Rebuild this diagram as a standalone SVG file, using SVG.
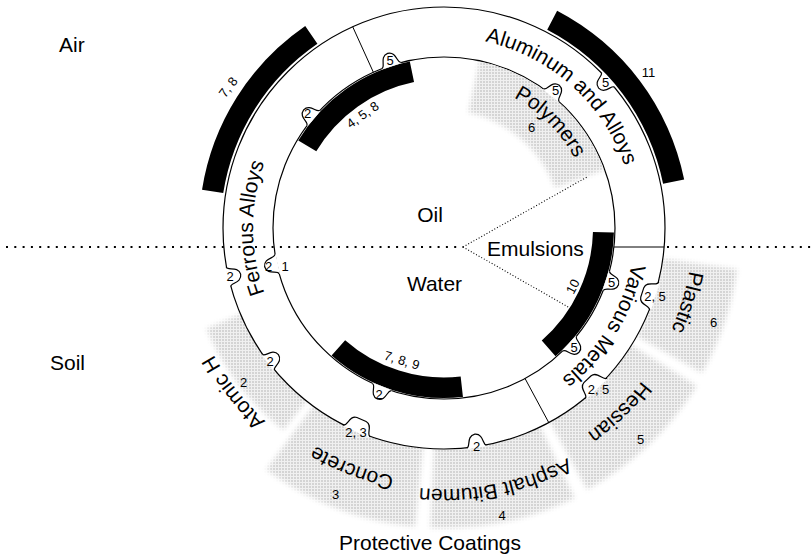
<svg xmlns="http://www.w3.org/2000/svg" width="812" height="554" viewBox="0 0 812 554">
<defs>
<style>
text{font-family:"Liberation Sans",Arial,Helvetica,sans-serif;fill:#000}
.lbl{font-size:21px}
.num{font-size:13px;text-anchor:middle}
.mid{text-anchor:middle}
.ring{stroke:#000;stroke-width:1.2}
.bar{fill:#000}
.div{stroke:#000;stroke-width:1;fill:none}
.dot{fill:none;stroke:#000;stroke-width:2;stroke-dasharray:2 6.3}
.fine{fill:none;stroke:#000;stroke-width:1.1;stroke-dasharray:1 2}
.bf{fill:#fff}
.bs{fill:none;stroke:#000;stroke-width:1.2}
.mesh{fill:url(#mesh)}
.mk{fill:#fff}
</style>
<pattern id="mesh" width="3" height="3" patternUnits="userSpaceOnUse"><rect width="3" height="3" fill="#f0f0f0"/><rect width="2" height="2" fill="#d4d4d4"/></pattern>
<filter id="soft" x="-20%" y="-20%" width="140%" height="140%"><feGaussianBlur stdDeviation="2.5"/></filter>
<clipPath id="inClip"><circle cx="444" cy="228" r="170.4"/></clipPath>
<mask id="mk-plastic" maskUnits="userSpaceOnUse" x="0" y="0" width="812" height="554"><path class="mk" filter="url(#soft)" d="M737.12 269.2 A296 296 0 0 1 702.13 372.86 L636.73 336.15 A221 221 0 0 0 662.85 258.76 Z"/></mask>
<mask id="mk-hessian" maskUnits="userSpaceOnUse" x="0" y="0" width="812" height="554"><path class="mk" filter="url(#soft)" d="M696.72 385.92 A298 298 0 0 1 587.11 489.39 L546.77 415.71 A214 214 0 0 0 625.48 341.4 Z"/></mask>
<mask id="mk-asphalt" maskUnits="userSpaceOnUse" x="0" y="0" width="812" height="554"><path class="mk" filter="url(#soft)" d="M574.57 498.1 A300 300 0 0 1 430.39 527.69 L434.29 441.78 A214 214 0 0 0 537.14 420.67 Z"/></mask>
<mask id="mk-concrete" maskUnits="userSpaceOnUse" x="0" y="0" width="812" height="554"><path class="mk" filter="url(#soft)" d="M415.24 526.62 A300 300 0 0 1 266.4 469.78 L317.31 400.47 A214 214 0 0 0 423.49 441.02 Z"/></mask>
<mask id="mk-atomic" maskUnits="userSpaceOnUse" x="0" y="0" width="812" height="554"><path class="mk" filter="url(#soft)" d="M283.39 429.91 A258 258 0 0 1 206.51 328.81 L247.01 311.62 A214 214 0 0 0 310.78 395.48 Z"/></mask>
<mask id="mk-polymers" maskUnits="userSpaceOnUse" x="0" y="0" width="812" height="554"><path class="mk" filter="url(#soft)" d="M480.59 55.85 A176 176 0 0 1 609.39 167.8 L554.88 187.64 A118 118 0 0 0 468.53 112.58 Z"/></mask>
<path id="tp-ferrous" d="M297.69 350.77 A191 191 0 0 1 297.69 105.23"/>
<path id="tp-alu" d="M449.67 37.08 A191 191 0 0 1 633 200.43"/>
<path id="tp-various" d="M632.85 199.44 A191 191 0 0 1 504.92 409.02"/>
<path id="tp-poly" d="M456.9 80.56 A148 148 0 0 1 591.44 215.1"/>
<path id="tp-plastic" d="M673.2 130.71 A249 249 0 0 1 579.62 436.83"/>
<path id="tp-hessian" d="M692.44 255.87 A250 250 0 0 1 459.7 477.51"/>
<path id="tp-asphalt" d="M647.98 390.83 A261 261 0 0 1 319.06 457.15"/>
<path id="tp-concrete" d="M526.37 467.22 A253 253 0 0 1 222.72 350.66"/>
<path id="tp-atomic" d="M389.32 485.25 A263 263 0 0 1 181.16 218.82"/>
<g id="bump1"><path class="bf" d="M-10 1.1 L-10 0 C-6 0 -9 -12 0 -12.5 C9 -12 6 0 10 0 L10 1.1 Z"/><path class="bs" d="M-10 0 C-6 0 -9 -12 0 -12.5 C9 -12 6 0 10 0"/></g>
<g id="bump2"><path class="bf" d="M-15 1.1 L-15 0 C-10 0 -13 -12 -5 -12.5 L5 -12.5 C13 -12 10 0 15 0 L15 1.1 Z"/><path class="bs" d="M-15 0 C-10 0 -13 -12 -5 -12.5 L5 -12.5 C13 -12 10 0 15 0"/></g>
</defs>

<rect width="812" height="554" fill="#fff"/>

<!-- Protective coatings (outside ring) -->
<g id="coating-plastic">
<rect width="812" height="554" class="mesh" mask="url(#mk-plastic)"/>
<text class="lbl"><textPath href="#tp-plastic" startOffset="50%" text-anchor="middle">Plastic</textPath></text>
<text class="num" x="713.5" y="327">6</text>
</g>
<g id="coating-hessian">
<rect width="812" height="554" class="mesh" mask="url(#mk-hessian)"/>
<text class="lbl"><textPath href="#tp-hessian" startOffset="50%" text-anchor="middle">Hessian</textPath></text>
<text class="num" x="640.5" y="444">5</text>
</g>
<g id="coating-asphalt">
<rect width="812" height="554" class="mesh" mask="url(#mk-asphalt)"/>
<text class="lbl"><textPath href="#tp-asphalt" startOffset="50%" text-anchor="middle">Asphalt Bitumen</textPath></text>
<text class="num" x="502" y="520">4</text>
</g>
<g id="coating-concrete">
<rect width="812" height="554" class="mesh" mask="url(#mk-concrete)"/>
<text class="lbl"><textPath href="#tp-concrete" startOffset="50%" text-anchor="middle">Concrete</textPath></text>
<text class="num" x="335.5" y="499">3</text>
</g>
<g id="coating-atomic-h">
<rect width="812" height="554" class="mesh" mask="url(#mk-atomic)"/>
<text class="lbl"><textPath href="#tp-atomic" startOffset="50%" text-anchor="middle">Atomic H</textPath></text>
<text class="num" x="243.5" y="387">2</text>
</g>

<!-- ring -->
<g id="ring">
<circle cx="444" cy="228" r="221" fill="#fff" class="ring"/>
<circle cx="444" cy="228" r="171" fill="none" class="ring"/>
</g>

<g id="polymers">
<rect width="812" height="554" class="mesh" mask="url(#mk-polymers)" clip-path="url(#inClip)"/>
<text class="lbl"><textPath href="#tp-poly" startOffset="50%" text-anchor="middle">Polymers</textPath></text>
<text class="num" x="531.5" y="132">6</text>
</g>

<!-- connectors / boundary lines -->
<g id="connectors">
<line class="dot" x1="6" y1="247" x2="463" y2="247"/>
<line class="dot" x1="667" y1="247" x2="812" y2="247"/>
<line class="fine" x1="463" y1="247" x2="587" y2="177"/>
<line class="fine" x1="463" y1="247" x2="570" y2="308"/>
<line class="div" x1="373.36" y1="72.27" x2="352.7" y2="26.74"/>
<line class="div" x1="614" y1="247" x2="664.2" y2="247"/>
<line class="div" x1="525.07" y1="378.56" x2="548.77" y2="422.59"/>
</g>

<!-- black bars -->
<g id="bar-air-ferrous">
<path class="bar" d="M202.02 189.67 A245 245 0 0 1 305.23 26.09 L317.41 43.81 A223.5 223.5 0 0 0 223.25 193.04 Z"/>
<text class="num" transform="translate(228 87) rotate(-53)" y="4.7">7, 8</text>
</g>
<g id="bar-oil-ferrous">
<path class="bar" d="M298.28 140.44 A170 170 0 0 1 409.82 61.47 L414.04 82.04 A149 149 0 0 0 316.28 151.26 Z"/>
<text class="num" transform="translate(362.5 114.5) rotate(-35)" y="4.7">4, 5, 8</text>
</g>
<g id="bar-air-aluminum">
<path class="bar" d="M557.13 10.68 A245 245 0 0 1 684.17 179.57 L663.09 183.82 A223.5 223.5 0 0 0 547.2 29.75 Z"/>
<text class="num" x="648.5" y="77">11</text>
</g>
<g id="bar-emulsions">
<path class="bar" d="M613.94 232.45 A170 170 0 0 1 555.53 356.3 L541.75 340.45 A149 149 0 0 0 592.95 231.9 Z"/>
<text class="num" transform="translate(572.5 286.3) rotate(-63)" y="4.7">10</text>
</g>
<g id="bar-water">
<path class="bar" d="M462.95 396.94 A170 170 0 0 1 331.58 355.52 L345.13 340.14 A149.5 149.5 0 0 0 460.66 376.57 Z"/>
<text class="num" transform="translate(402 360) rotate(17)" y="4.7">7, 8, 9</text>
</g>

<!-- reference tabs -->
<g id="tabs">
<use href="#bump1" transform="translate(391.44 65.28) rotate(342.1)"/>
<use href="#bump1" transform="translate(313.2 117.86) rotate(310.1)"/>
<use href="#bump1" transform="translate(551.38 94.92) rotate(38.9)"/>
<use href="#bump1" transform="translate(606.63 280.84) rotate(108)"/>
<use href="#bump1" transform="translate(569.87 343.75) rotate(132.6)"/>
<use href="#bump1" transform="translate(381.88 387.32) rotate(201.3)"/>
<use href="#bump1" transform="translate(276.86 264.14) rotate(257.8)"/>
<use href="#bump1" transform="translate(607.93 79.79) rotate(227.9)"/>
<use href="#bump2" transform="translate(654.18 296.29) rotate(-72)"/>
<use href="#bump2" transform="translate(596.13 388.31) rotate(-43.5)"/>
<use href="#bump1" transform="translate(476.67 446.57) rotate(-8.5)"/>
<use href="#bump2" transform="translate(356.58 430.98) rotate(23.3)"/>
<use href="#bump1" transform="translate(268.49 362.3) rotate(52.6)"/>
<use href="#bump1" transform="translate(228.49 276.96) rotate(77.2)"/>
<text class="num" x="390" y="65.2">5</text>
<text class="num" x="307.5" y="117.7">2</text>
<text class="num" x="555.5" y="94.7">5</text>
<text class="num" x="611.5" y="287.2">5</text>
<text class="num" x="574" y="352.2">5</text>
<text class="num" x="379" y="399.2">2</text>
<text class="num" x="268.5" y="270.7">2</text>
<text class="num" x="285" y="271.2">1</text>
<text class="num" x="605.5" y="86.7">5</text>
<text class="num" x="655" y="300.7">2, 5</text>
<text class="num" x="598.5" y="394.2">2, 5</text>
<text class="num" x="476.5" y="450.7">2</text>
<text class="num" x="356" y="437.2">2, 3</text>
<text class="num" x="270" y="365.7">2</text>
<text class="num" x="230" y="281.2">2</text>
</g>

<!-- ring segment labels -->
<g id="ferrous-alloys"><text class="lbl"><textPath href="#tp-ferrous" startOffset="50%" text-anchor="middle">Ferrous Alloys</textPath></text></g>
<g id="aluminum-alloys"><text class="lbl"><textPath href="#tp-alu" startOffset="50%" text-anchor="middle">Aluminum and Alloys</textPath></text></g>
<g id="various-metals"><text class="lbl"><textPath href="#tp-various" startOffset="50%" text-anchor="middle">Various Metals</textPath></text></g>

<!-- environments -->
<g id="oil"><text class="lbl mid" x="430" y="222">Oil</text></g>
<g id="water"><text class="lbl mid" x="434.5" y="291">Water</text></g>
<g id="emulsions"><text class="lbl" x="487" y="256">Emulsions</text></g>
<g id="air"><text class="lbl" x="59" y="52">Air</text></g>
<g id="soil"><text class="lbl" x="50" y="370">Soil</text></g>
<g id="protective-coatings"><text class="lbl mid" x="430" y="550">Protective Coatings</text></g>
</svg>
